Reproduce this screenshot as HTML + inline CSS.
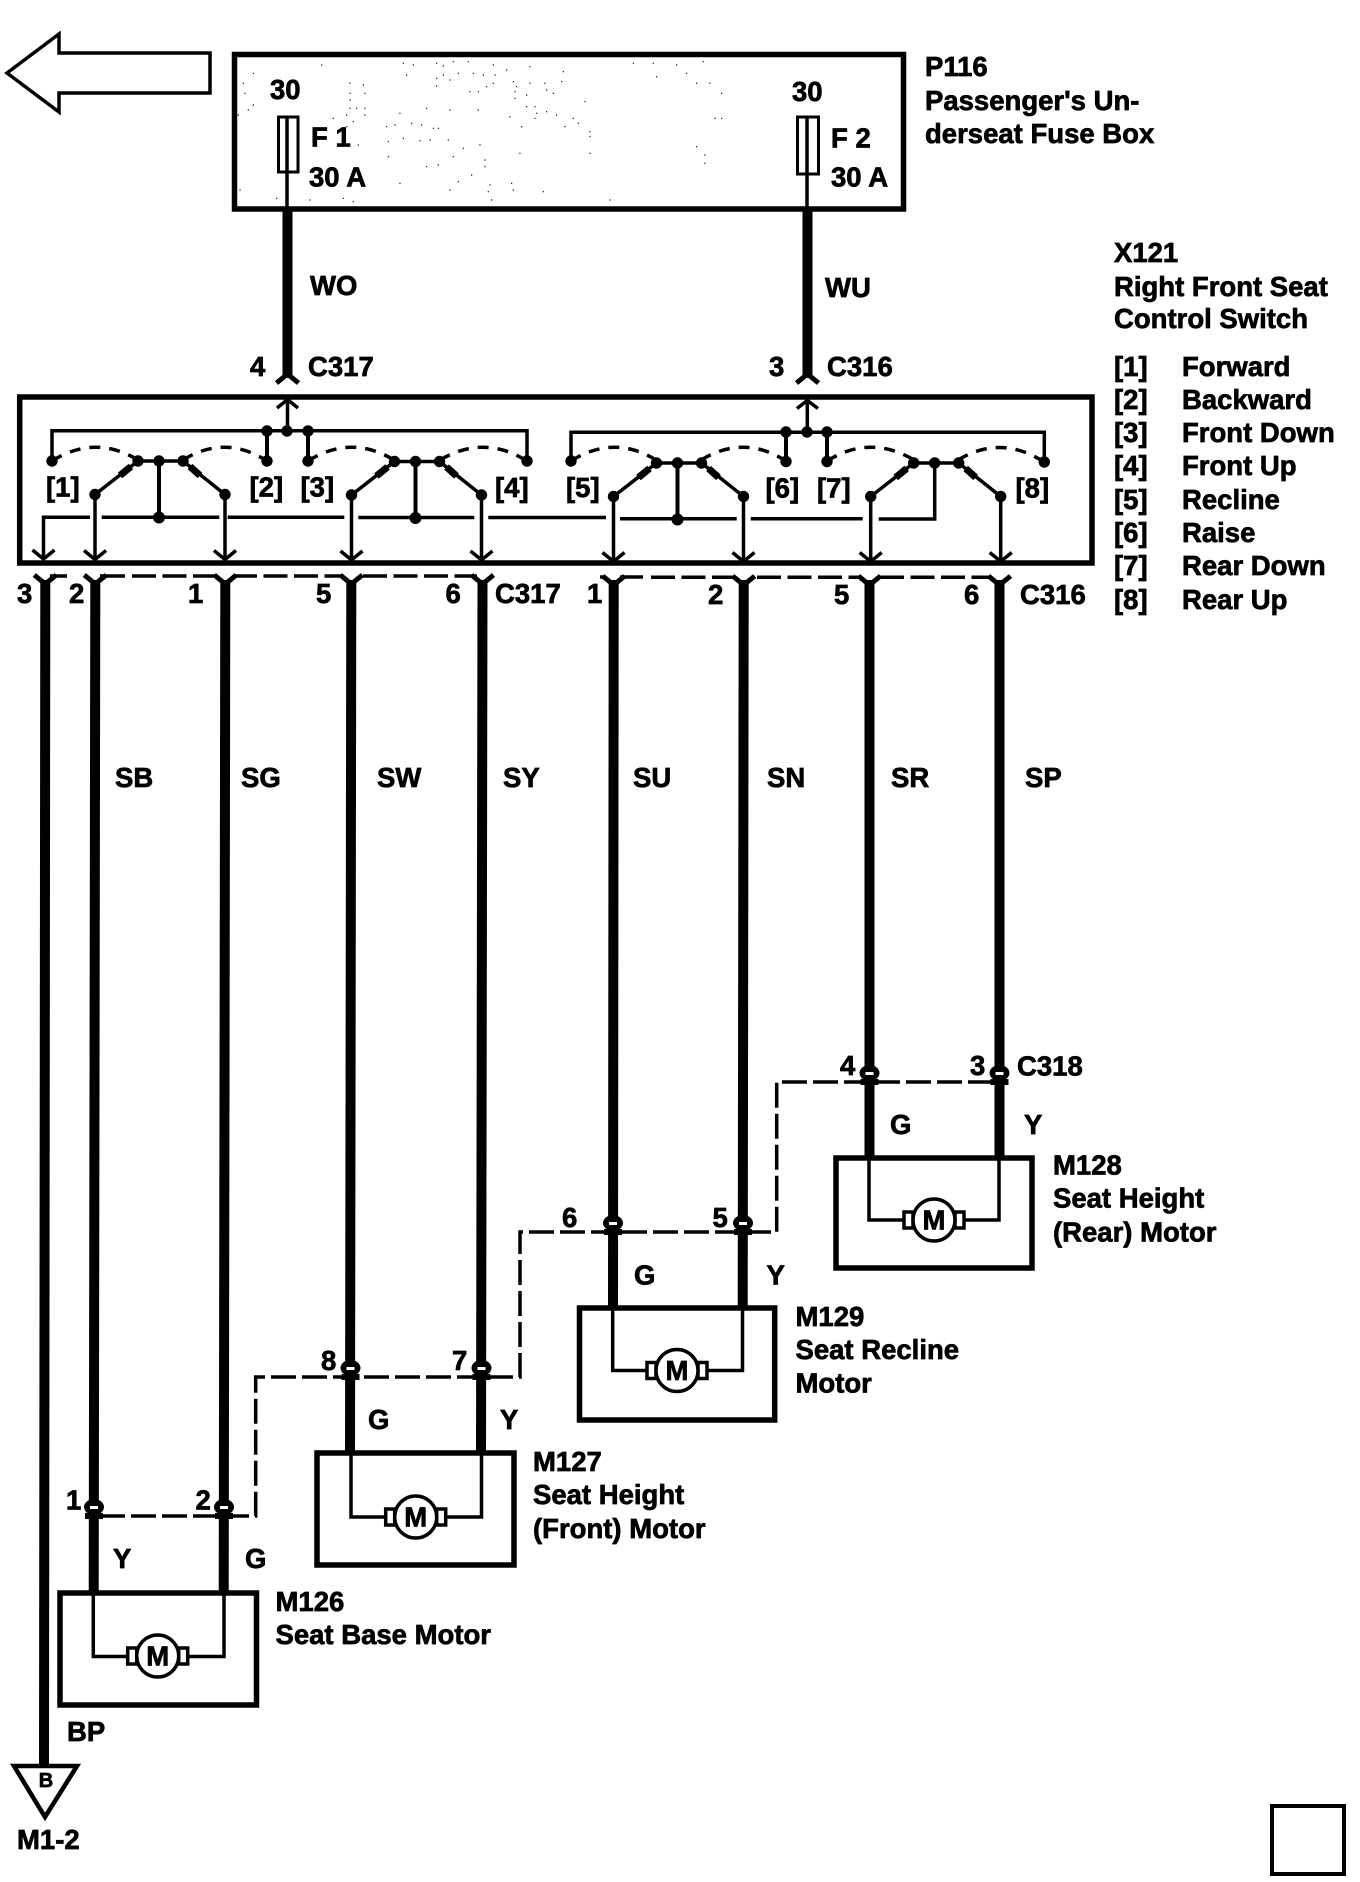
<!DOCTYPE html>
<html><head><meta charset="utf-8"><style>
html,body{margin:0;padding:0;background:#fff}
svg{display:block}
text{font-family:"Liberation Sans",sans-serif;font-weight:bold;font-size:27.5px;fill:#000;stroke:#000;stroke-width:.7}
</style></head><body>
<svg width="1360" height="1882" viewBox="0 0 1360 1882" xmlns="http://www.w3.org/2000/svg">
<defs>
<g id="mot">
<rect x="-30" y="-8" width="9" height="16" fill="#fff" stroke="#000" stroke-width="3.5"/>
<rect x="21" y="-8" width="9" height="16" fill="#fff" stroke="#000" stroke-width="3.5"/>
<circle cx="0" cy="0" r="21" fill="#fff" stroke="#000" stroke-width="3.5"/>
</g>
<g id="fork"><path d="M-11 -7 L0 2 L11 -7" fill="none" stroke="#000" stroke-width="5"/></g>
<g id="forkup"><path d="M-11 6 L0 -3 L11 6" fill="none" stroke="#000" stroke-width="5"/></g>
<g id="dn"><path d="M-11 -8 L0 1 L11 -8" fill="none" stroke="#000" stroke-width="3.5"/></g>
<g id="dome"><ellipse cx="0" cy="-9" rx="10" ry="8"/><rect x="-9" y="-3" width="18" height="6"/><rect x="-4" y="-10" width="8" height="3" fill="#fff"/></g>
<g id="blades">
<circle cx="0" cy="0" r="5.700"/><circle cx="43" cy="-33.500" r="5.700"/><circle cx="64" cy="-33.500" r="5.700"/><circle cx="88" cy="-33.500" r="5.700"/><circle cx="130" cy="0" r="5.700"/>
<path d="M0 0 L43 -33.500 M130 0 L88 -33.500 M43 -33.500 H88" stroke="#000" stroke-width="3.500" fill="none"/>
<path d="M25 -19 L36 -28 M105 -19 L95 -28" stroke="#000" stroke-width="7" fill="none"/>
<path d="M0 0 V64 M130 0 V64" stroke="#000" stroke-width="3.500" fill="none"/>
<use href="#dn" x="0" y="64"/><use href="#dn" x="130" y="64"/>
</g>
<g id="sw">
<use href="#blades"/>
<path d="M64 -33.500 V23" stroke="#000" stroke-width="4" fill="none"/><circle cx="64" cy="23" r="6"/>
</g>
</defs>
<rect width="1360" height="1882" fill="#fff"/>

<!-- big arrow -->
<path d="M7 73 L59 34 V53 H210 V93 H59 V112 Z" fill="#fff" stroke="#000" stroke-width="3.500"/>

<!-- fuse box -->
<rect x="234.500" y="54.500" width="669" height="154.500" fill="#fff" stroke="#000" stroke-width="5.500"/>
<path transform="translate(230,50) scale(.3333)" stroke="#000" stroke-width="3.500" fill="none" stroke-linecap="square" d="M520 40h0M550 45h0M620 40h0M640 48h0M670 35h0M715 35h0M790 45h0M830 60h0M900 50h0M1000 65h0M1210 40h0M1270 40h0M1340 45h0M1420 35h0M1370 70h0M1280 80h0M530 75h0M620 85h0M640 75h0M660 90h0M685 70h0M730 70h0M760 75h0M795 75h0M790 100h0M850 95h0M860 110h0M900 100h0M945 100h0M995 95h0M620 108h0M720 125h0M745 125h0M770 110h0M855 125h0M890 135h0M950 120h0M970 130h0M855 145h0M1065 155h0M1400 100h0M1440 100h0M1475 130h0M360 100h0M400 105h0M360 130h0M405 130h0M360 150h0M360 175h0M380 175h0M405 175h0M350 195h0M405 195h0M370 215h0M350 230h0M310 205h0M275 45h0M40 100h0M70 70h0M45 130h0M70 165h0M55 180h0M25 195h0M510 190h0M590 175h0M660 180h0M745 180h0M840 200h0M890 170h0M915 170h0M920 190h0M950 185h0M980 195h0M915 205h0M1030 205h0M1005 230h0M1045 220h0M875 230h0M470 230h0M495 225h0M545 220h0M575 225h0M610 235h0M625 235h0M520 265h0M570 272h0M600 270h0M655 270h0M1080 245h0M1080 260h0M1455 205h0M1475 205h0M385 285h0M475 275h0M475 320h0M700 295h0M670 320h0M750 285h0M870 310h0M1080 310h0M1400 290h0M1425 315h0M1425 340h0M590 350h0M625 345h0M765 330h0M765 350h0M725 375h0M510 400h0M685 395h0M660 420h0M780 405h0M845 400h0M850 420h0M775 425h0M940 425h0M1140 450h0M785 450h0M30 420h0M140 445h0M240 450h0M340 445h0M370 455h0"/>
<rect x="278.500" y="117" width="19.500" height="55" fill="#fff" stroke="#000" stroke-width="3"/>
<rect x="797.500" y="117" width="21" height="57" fill="#fff" stroke="#000" stroke-width="3"/>
<path d="M287 117 V207 M807 117 V207" stroke="#000" stroke-width="3.500" fill="none"/>
<text x="270" y="99">30</text><text x="792" y="101">30</text>
<text x="311" y="146.500">F 1</text><text x="831" y="147.500">F 2</text>
<text x="309" y="186.500">30 A</text><text x="831" y="186.500">30 A</text>
<text x="925" y="76">P116</text>
<text x="925" y="110">Passenger's Un-</text>
<text x="925" y="143">derseat Fuse Box</text>

<!-- wires to switch -->
<path d="M287.500 209 V378 M807.500 209 V378" stroke="#000" stroke-width="10" fill="none"/>
<use href="#forkup" x="287.500" y="377"/><use href="#forkup" x="807.500" y="377"/>
<text x="310" y="295">WO</text><text x="825" y="297">WU</text>
<text x="250" y="376">4</text><text x="308" y="376">C317</text>
<text x="769" y="376">3</text><text x="827" y="376">C316</text>

<text x="1114" y="262">X121</text>
<text x="1114" y="296">Right Front Seat</text>
<text x="1114" y="328">Control Switch</text>
<text x="1114" y="376">[1]</text><text x="1182" y="376">Forward</text>
<text x="1114" y="409">[2]</text><text x="1182" y="409">Backward</text>
<text x="1114" y="442">[3]</text><text x="1182" y="442">Front Down</text>
<text x="1114" y="475">[4]</text><text x="1182" y="475">Front Up</text>
<text x="1114" y="509">[5]</text><text x="1182" y="509">Recline</text>
<text x="1114" y="542">[6]</text><text x="1182" y="542">Raise</text>
<text x="1114" y="575">[7]</text><text x="1182" y="575">Rear Down</text>
<text x="1114" y="609">[8]</text><text x="1182" y="609">Rear Up</text>

<!-- switch box -->
<rect x="19.700" y="397" width="1072.300" height="166" fill="#fff" stroke="#000" stroke-width="5.500"/>
<path d="M52 461 V430.700 H527 V461 M571 461 V432.300 H1044.300 V462" fill="none" stroke="#000" stroke-width="3.500"/>
<path d="M267 431 V461 M308 431 V461 M786 433 V461 M827 433 V461" fill="none" stroke="#000" stroke-width="4"/>
<circle cx="267" cy="431" r="5.700"/><circle cx="287" cy="431" r="5.700"/><circle cx="308" cy="431" r="5.700"/>
<circle cx="786" cy="432" r="5.700"/><circle cx="807" cy="432" r="5.700"/><circle cx="827" cy="432" r="5.700"/>
<circle cx="52" cy="461" r="5.700"/><circle cx="267" cy="461" r="5.700"/><circle cx="308" cy="461" r="5.700"/><circle cx="527" cy="461" r="5.700"/>
<circle cx="571" cy="461" r="5.700"/><circle cx="786" cy="461.500" r="5.700"/><circle cx="827" cy="461.500" r="5.700"/><circle cx="1044.300" cy="462" r="5.700"/>
<path d="M287.500 431 V400 M277 408 L287.500 399.500 L298 408 M807.300 432 V401 M797 408.500 L807.300 400.500 L818 408.500" fill="none" stroke="#000" stroke-width="3.500"/>
<g fill="none" stroke="#000" stroke-width="3.500" stroke-dasharray="11 9">
<path d="M52 461 Q95 434 138 460"/><path d="M183 460 Q225 434 267 461"/>
<path d="M308 461 Q351 434 394 460"/><path d="M440 460 Q484 434 527 461"/>
<path d="M571 461 Q614 434 656 460"/><path d="M701 460 Q744 434 786 461"/>
<path d="M827 461 Q870 434 914 460"/><path d="M958 460 Q1001 434 1044 462"/>
</g>
<use href="#sw" x="95" y="494.500"/><use href="#sw" x="351.500" y="495"/><use href="#sw" x="613.500" y="496.500"/>
<g transform="translate(870.700,496.500)">
<use href="#blades"/>
<path d="M64 -33.500 V22.500 H8" stroke="#000" stroke-width="3.500" fill="none"/>
</g>
<path d="M90 517.300 H43.500 V558 M101.700 517.300 H219.300 M227.700 517.300 H344.300 M358.300 517.500 H474.300 M488.300 517.500 H606 M620 518.700 H736.700 M750.700 518.700 H862.700" fill="none" stroke="#000" stroke-width="3.500"/>
<use href="#dn" x="43.500" y="558"/>
<text x="46" y="496.500">[1]</text><text x="249.500" y="496.500">[2]</text><text x="300.500" y="496.500">[3]</text><text x="495" y="497">[4]</text>
<text x="566" y="497">[5]</text><text x="765.500" y="497.500">[6]</text><text x="817" y="497.500">[7]</text><text x="1015.500" y="497.500">[8]</text>

<!-- dashed connector C317/C316 -->
<g stroke="#000" stroke-width="3.500" fill="none">
<path d="M50 576 H67 M100 576 H125 M600 577 H606 M620 577 H643"/>
<path stroke-dasharray="24 6.500" d="M132 576 H218 M233 576 H343 M363 576 H477 M651 577.300 H737 M757 577.300 H860 M880 577.300 H992"/>
</g>

<!-- main wires -->
<g stroke="#000" stroke-width="10" fill="none">
<path d="M45.300 580 L44 1765"/>
<path d="M95.300 580 L93.700 1593"/>
<path d="M225.300 580 L223.700 1593"/>
<path d="M351.300 580 L350 1453"/>
<path d="M482.500 580 L481 1453"/>
<path d="M613.700 580 L613 1308"/>
<path d="M743.700 580 L742.700 1308"/>
<path d="M869.500 580 V1158"/>
<path d="M999.500 580 V1158"/>
</g>
<use href="#fork" x="45.300" y="582"/><use href="#fork" x="95.300" y="582"/><use href="#fork" x="225.300" y="582"/><use href="#fork" x="351.300" y="582"/><use href="#fork" x="482.500" y="582"/><use href="#fork" x="613.700" y="583"/><use href="#fork" x="743.700" y="583"/><use href="#fork" x="869.500" y="583"/><use href="#fork" x="999.500" y="583"/>
<text x="17" y="603">3</text><text x="69" y="603">2</text><text x="188" y="603">1</text><text x="316" y="603">5</text><text x="445.500" y="603">6</text><text x="495" y="603">C317</text><text x="587" y="603">1</text><text x="708" y="604">2</text><text x="834" y="604">5</text><text x="964" y="604">6</text><text x="1020" y="604">C316</text>
<text x="115" y="787">SB</text><text x="241" y="787">SG</text><text x="377" y="787">SW</text><text x="503" y="787">SY</text><text x="633" y="787">SU</text><text x="767" y="787">SN</text><text x="891" y="787">SR</text><text x="1025" y="787">SP</text>

<!-- dashed harness -->
<g fill="none" stroke="#000" stroke-width="3.500" stroke-dasharray="25 6">
<path d="M100 1516 H255.700 V1377 H520 V1232 H776.700 V1082 H995"/>
</g>
<use href="#dome" x="94" y="1516"/><use href="#dome" x="224" y="1516"/>
<use href="#dome" x="350.500" y="1377"/><use href="#dome" x="481.500" y="1377"/>
<use href="#dome" x="613" y="1232"/><use href="#dome" x="743" y="1232"/>
<use href="#dome" x="869.500" y="1082"/><use href="#dome" x="999.500" y="1082"/>

<!-- motors -->
<g fill="none" stroke="#000" stroke-width="5.500">
<rect x="60" y="1593" width="196.500" height="112"/>
<rect x="317" y="1453" width="197" height="112"/>
<rect x="579.500" y="1308" width="195.200" height="112"/>
<rect x="836" y="1158" width="196" height="110"/>
</g>
<g fill="none" stroke="#000" stroke-width="3.500">
<path d="M93.300 1593 V1656.500 H224 V1593"/>
<path d="M351 1453 V1517 H481.500 V1453"/>
<path d="M612.700 1308 V1370.500 H742.500 V1308"/>
<path d="M869 1158 V1220 H999 V1158"/>
</g>
<use href="#mot" x="157.700" y="1656"/><use href="#mot" x="415.700" y="1517"/><use href="#mot" x="677" y="1370.500"/><use href="#mot" x="934" y="1220"/>
<g text-anchor="middle"><text x="157.700" y="1665.500">M</text><text x="415.700" y="1526.500">M</text><text x="677" y="1380">M</text><text x="934" y="1229.500">M</text></g>

<text x="66" y="1509.500">1</text><text x="195.500" y="1509.500">2</text>
<text x="321" y="1370">8</text><text x="452" y="1370">7</text>
<text x="562" y="1227">6</text><text x="712.500" y="1227">5</text>
<text x="840" y="1075">4</text><text x="970" y="1075">3</text><text x="1017" y="1075.500">C318</text>
<text x="113" y="1568">Y</text><text x="245" y="1568">G</text>
<text x="368" y="1429">G</text><text x="500" y="1429">Y</text>
<text x="634" y="1284.500">G</text><text x="766.500" y="1284.500">Y</text>
<text x="890" y="1134">G</text><text x="1024" y="1134">Y</text>
<text x="275.500" y="1611">M126</text><text x="275.500" y="1644">Seat Base Motor</text>
<text x="533" y="1471">M127</text><text x="533" y="1504">Seat Height</text><text x="533" y="1538">(Front) Motor</text>
<text x="795.500" y="1326">M129</text><text x="795.500" y="1359">Seat Recline</text><text x="795.500" y="1392.500">Motor</text>
<text x="1053" y="1174.500">M128</text><text x="1053" y="1207.500">Seat Height</text><text x="1053" y="1241.500">(Rear) Motor</text>

<!-- ground -->
<path d="M14 1766 H77 L45 1817 Z" fill="#fff" stroke="#000" stroke-width="4.500"/>
<text x="46" y="1787" text-anchor="middle" style="font-size:20px">B</text>
<text x="67" y="1741">BP</text>
<text x="17" y="1849">M1-2</text>

<!-- square -->
<rect x="1272" y="1806" width="72" height="68" fill="none" stroke="#000" stroke-width="4"/>
</svg>
</body></html>
